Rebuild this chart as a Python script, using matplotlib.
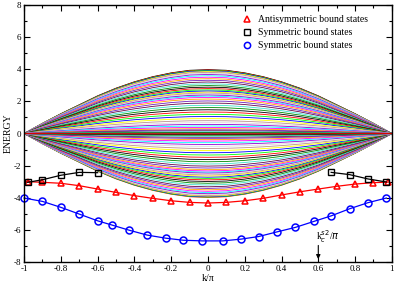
import matplotlib
matplotlib.use("Agg")
import matplotlib.pyplot as plt
import numpy as np
from matplotlib.lines import Line2D
from matplotlib.ticker import MultipleLocator

plt.rcParams["font.family"] = ["Liberation Serif", "DejaVu Serif"]
plt.rcParams["axes.unicode_minus"] = False

# continuum band: shape of the envelope vs k/pi, and the energy of each line at k=0
band_k = [-1.0, -0.9, -0.8, -0.7, -0.6, -0.5, -0.4, -0.3, -0.2, -0.1, 0.0,
          0.1, 0.2, 0.3, 0.4, 0.5, 0.6, 0.7, 0.8, 0.9, 1.0]
band_shape = [0.0, 0.16, 0.31, 0.45, 0.59, 0.71, 0.81, 0.89, 0.95, 0.99, 1.0,
              0.99, 0.95, 0.89, 0.81, 0.71, 0.59, 0.45, 0.31, 0.16, 0.0]
band_levels = [3.98, 3.96, 3.93, 3.90, 3.86, 3.81, 3.75, 3.68, 3.60, 3.51, 3.42,
               3.32, 3.21, 3.10, 2.99, 2.89, 2.80, 2.72, 2.65, 2.58, 2.52, 2.46,
               2.40, 2.33, 2.25, 2.15, 2.03, 1.90, 1.76, 1.62, 1.48, 1.34, 1.20,
               1.06, 0.93, 0.80, 0.68, 0.57, 0.47, 0.38, 0.30, 0.23, 0.17, 0.11,
               0.06, 0.02]
band_levels = band_levels + [-v for v in band_levels]

# bound states
anti_k = [-0.98, -0.9, -0.8, -0.7, -0.6, -0.5, -0.4, -0.3, -0.2, -0.1, 0.0,
          0.1, 0.2, 0.3, 0.4, 0.5, 0.6, 0.7, 0.8, 0.9, 0.98]
anti_e = [-3.00, -3.04, -3.10, -3.25, -3.46, -3.67, -3.87, -4.04, -4.19, -4.29, -4.33,
          -4.29, -4.19, -4.04, -3.83, -3.63, -3.46, -3.29, -3.15, -3.06, -3.03]

sym1_k = [-0.98, -0.9, -0.8, -0.7, -0.6, 0.67, 0.77, 0.87, 0.97]
sym1_e = [-3.04, -2.88, -2.60, -2.42, -2.44, -2.42, -2.56, -2.83, -3.02]

sym2_k = [-1.0, -0.9, -0.8, -0.7, -0.6, -0.52, -0.43, -0.33, -0.23, -0.135, -0.03,
          0.08, 0.18, 0.275, 0.375, 0.475, 0.575, 0.67, 0.77, 0.87, 0.97]
sym2_e = [-4.02, -4.23, -4.60, -5.02, -5.44, -5.71, -6.02, -6.33, -6.52, -6.65, -6.69,
          -6.69, -6.58, -6.42, -6.13, -5.85, -5.48, -5.13, -4.69, -4.31, -4.02]

legend_labels = ["Antisymmetric bound states", "Symmetric bound states",
                 "Symmetric bound states"]

grace_colors = ["#000000", "#FF0000", "#00FF00", "#0000FF", "#FFFF00", "#BC8F8F",
                "#DCDCDC", "#9400D3", "#00FFFF", "#FF00FF", "#FFA500", "#7221BC",
                "#670748", "#40E0D0", "#008B00"]

fig = plt.figure(figsize=(3.95, 2.85), dpi=100)
ax = fig.add_axes([0.061, 0.081, 0.931, 0.901])

shape = np.array(band_shape)
for i, lev in enumerate(band_levels):
    ax.plot(band_k, lev * shape, color=grace_colors[i % len(grace_colors)], lw=0.6)

ax.plot(anti_k, anti_e, color="red", lw=0.9, marker="^", ms=5, mfc="none",
        mec="red", mew=1.1, clip_on=False)
ax.plot(sym1_k[:5], sym1_e[:5], color="black", lw=0.9, marker="s", ms=4.5, mfc="none",
        mec="black", mew=1.0, clip_on=False)
ax.plot(sym1_k[5:], sym1_e[5:], color="black", lw=0.9, marker="s", ms=4.5, mfc="none",
        mec="black", mew=1.0, clip_on=False)
ax.plot(sym2_k, sym2_e, color="blue", lw=0.9, marker="o", ms=5, mfc="none",
        mec="blue", mew=1.1, clip_on=False)

ax.annotate("", xy=(0.6, -8), xytext=(0.6, -6.8),
            arrowprops=dict(arrowstyle="-|>", color="black", lw=0.8, mutation_scale=6))
ax.text(0.585, -6.95, r"k$_c^{s2}$/$\pi$", fontsize=7, ha="left", va="bottom")

ax.set_xlim(-1, 1)
ax.set_ylim(-8, 8)
ax.yaxis.set_major_locator(MultipleLocator(2))
ax.yaxis.set_minor_locator(MultipleLocator(1))
ax.xaxis.set_minor_locator(MultipleLocator(0.1))
ax.set_xticks(np.arange(-1, 1.01, 0.2))
ax.set_xticklabels(["-1", "-0.8", "-0.6", "-0.4", "-0.2", "0", "0.2", "0.4", "0.6", "0.8", "1"])
ax.tick_params(which="both", direction="in", top=True, right=True, labelsize=6.5, pad=2)
ax.tick_params(which="major", length=4, width=0.8)
ax.tick_params(which="minor", length=2, width=0.8)
for sp in ax.spines.values():
    sp.set_linewidth(1.0)

ax.set_xlabel("k/\u03c0", fontsize=7, labelpad=1)
ax.set_ylabel("ENERGY", fontsize=7, labelpad=1)

handles = [
    Line2D([], [], ls="none", marker="^", ms=4.5, mfc="none", mec="red", mew=1.1),
    Line2D([], [], ls="none", marker="s", ms=4, mfc="none", mec="black", mew=1.0),
    Line2D([], [], ls="none", marker="o", ms=4.5, mfc="none", mec="blue", mew=1.1),
]
ax.legend(handles, legend_labels, loc="upper right", bbox_to_anchor=(0.96, 0.995),
          frameon=False, fontsize=7.0, handlelength=1.0, handletextpad=0.7,
          labelspacing=0.4, numpoints=1)

fig.savefig("out.png", dpi=100)
